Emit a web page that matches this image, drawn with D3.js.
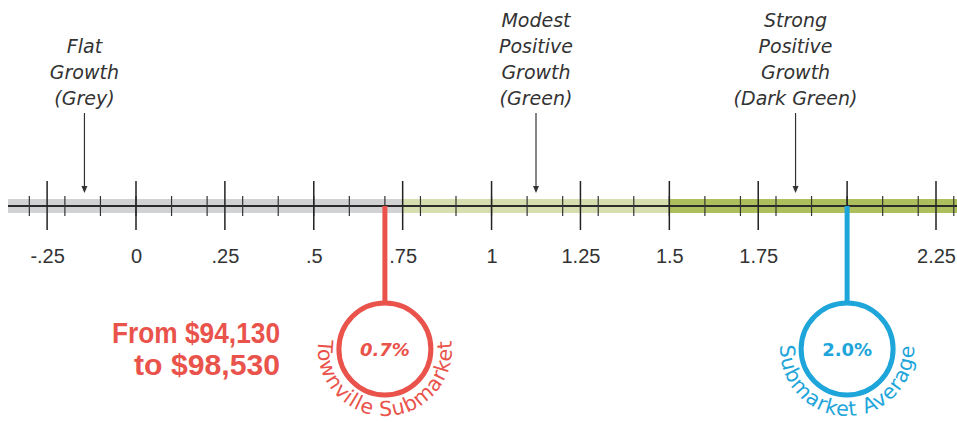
<!DOCTYPE html>
<html>
<head>
<meta charset="utf-8">
<script src="https://cdn.jsdelivr.net/npm/d3@7"></script>
<style>
  body { margin: 0; background: #fff; }
  svg { display: block; }
</style>
</head>
<body>
<div id="chart"></div>
<script>
// growth scale data
const majorTicks = [-0.25, 0, 0.25, 0.5, 0.75, 1, 1.25, 1.5, 1.75, 2, 2.25];
const tickLabels = ["-.25", "0", ".25", ".5", ".75", "1", "1.25", "1.5", "1.75", "", "2.25"];
const minorTicks = d3.range(-3, 24).map((d) => d / 10);

const zoneNames = ["Flat", "Modest", "Strong"];
const zoneStart = [-0.36, 0.75, 1.5];
const zoneEnd = [0.75, 1.5, 2.32];
const zoneColors = ["#d1d2d4", "#d6deaf", "#adbf5c"];
const zoneLabels = [
  ["Flat", "Growth", "(Grey)"],
  ["Modest", "Positive", "Growth", "(Green)"],
  ["Strong", "Positive", "Growth", "(Dark Green)"],
];
const zoneArrowAt = [-0.145, 1.125, 1.855];

const markerValues = [0.7, 2.0];
const markerTexts = ["0.7%", "2.0%"];
const markerNames = ["Townville Submarket", "Submarket Average"];
const markerColors = ["#e9534b", "#1ea5da"];
const rangeText = ["From $94,130", "to $98,530"];

const width = 957,
  height = 422;
const axisY = 206;

const svg = d3.select("#chart").append("svg").attr("width", width).attr("height", height);

const x = d3.scaleLinear().domain([0, 2.25]).range([136, 936]);

// coloured bands
svg
  .selectAll(".band")
  .data(zoneNames)
  .join("rect")
  .attr("x", (d, i) => x(zoneStart[i]))
  .attr("width", (d, i) => x(zoneEnd[i]) - x(zoneStart[i]))
  .attr("y", axisY - 7)
  .attr("height", 14)
  .attr("fill", (d, i) => zoneColors[i]);

// axis line
svg
  .append("line")
  .attr("x1", x(zoneStart[0]))
  .attr("x2", width)
  .attr("y1", axisY)
  .attr("y2", axisY)
  .attr("stroke", "#2b2b2b")
  .attr("stroke-width", 2);

// minor ticks
svg
  .selectAll(".minor")
  .data(minorTicks)
  .join("line")
  .attr("x1", (d) => x(d))
  .attr("x2", (d) => x(d))
  .attr("y1", axisY - 10)
  .attr("y2", axisY + 10)
  .attr("stroke", "#333")
  .attr("stroke-width", 1.2);

// major ticks
svg
  .selectAll(".major")
  .data(majorTicks)
  .join("line")
  .attr("x1", (d) => x(d))
  .attr("x2", (d) => x(d))
  .attr("y1", axisY - 25)
  .attr("y2", axisY + 24)
  .attr("stroke", "#222")
  .attr("stroke-width", 1.5);

// tick labels via axis
const axis = svg
  .append("g")
  .attr("transform", `translate(0, ${axisY + 40})`)
  .call(
    d3
      .axisBottom(x)
      .tickValues(majorTicks)
      .tickSize(0)
      .tickFormat((d, i) => tickLabels[i])
  );
axis.select(".domain").remove();
axis
  .selectAll("text")
  .attr("font-family", "Liberation Sans, Arial, sans-serif")
  .attr("font-size", 20)
  .attr("fill", "#333");

// zone annotations with arrows
zoneLabels.forEach(function (lines, i) {
  const cx = x(zoneArrowAt[i]);
  const first = 27 + (4 - lines.length) * 26;
  svg
    .append("g")
    .selectAll("text")
    .data(lines)
    .join("text")
    .attr("x", cx)
    .attr("y", (d, j) => first + j * 26)
    .attr("text-anchor", "middle")
    .attr("font-family", "DejaVu Sans, sans-serif")
    .attr("font-style", "italic")
    .attr("font-size", 19)
    .attr("fill", "#333")
    .text((d) => d);

  svg
    .append("line")
    .attr("x1", cx)
    .attr("x2", cx)
    .attr("y1", 113)
    .attr("y2", 190)
    .attr("stroke", "#333")
    .attr("stroke-width", 1.2);
  svg
    .append("path")
    .attr("d", `M${cx - 3},${186} L${cx + 3},${186} L${cx},${193} Z`)
    .attr("fill", "#333");
});

// markers with circles
const r = 46,
  cy = 349,
  rt = 67;
markerValues.forEach(function (v, i) {
  const cx = x(v);
  const col = markerColors[i];
  const g = svg.append("g");

  g.append("line")
    .attr("x1", cx)
    .attr("x2", cx)
    .attr("y1", axisY)
    .attr("y2", cy - r)
    .attr("stroke", col)
    .attr("stroke-width", 5);

  g.append("circle")
    .attr("cx", cx)
    .attr("cy", cy)
    .attr("r", r)
    .attr("fill", "#fff")
    .attr("stroke", col)
    .attr("stroke-width", 5);

  g.append("text")
    .attr("x", cx)
    .attr("y", cy + 7)
    .attr("text-anchor", "middle")
    .attr("font-family", "DejaVu Sans, sans-serif")
    .attr("font-weight", "bold")
    .attr("font-style", i === 0 ? "italic" : "normal")
    .attr("font-size", 18)
    .attr("fill", col)
    .text(markerTexts[i]);

  // curved name around the bottom of the circle
  const a = (9 * Math.PI) / 180;
  const x0 = cx - rt * Math.cos(a),
    x1 = cx + rt * Math.cos(a),
    y0 = cy - rt * Math.sin(a);
  g.append("path")
    .attr("id", "arc" + i)
    .attr("d", `M${x0},${y0} A${rt},${rt} 0 1 0 ${x1},${y0}`)
    .attr("fill", "none");
  g.append("text")
    .attr("font-family", "DejaVu Sans, sans-serif")
    .attr("font-size", 20.5)
    .attr("letter-spacing", 0.9)
    .attr("fill", col)
    .append("textPath")
    .attr("href", "#arc" + i)
    .attr("startOffset", "50%")
    .attr("text-anchor", "middle")
    .text(markerNames[i]);
});

// price range text (condensed bold)
svg
  .append("g")
  .selectAll("text")
  .data(rangeText)
  .join("text")
  .attr("x", 280)
  .attr("y", (d, i) => 343 + i * 32)
  .attr("text-anchor", "end")
  .attr("font-family", "Liberation Sans Narrow, Arial Narrow, sans-serif")
  .attr("font-weight", "bold")
  .attr("font-size", 29)
  .attr("textLength", (d, i) => (i === 0 ? 168 : 146))
  .attr("lengthAdjust", "spacingAndGlyphs")
  .attr("fill", markerColors[0])
  .text((d) => d);
</script>
</body>
</html>
